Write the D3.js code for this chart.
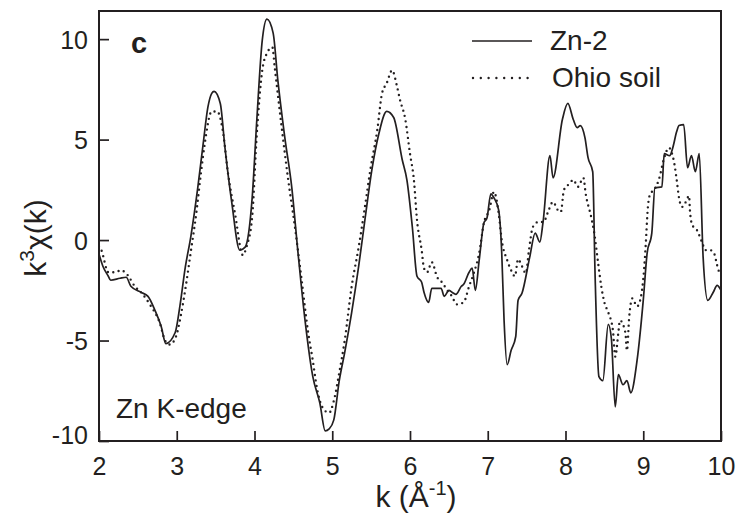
<!DOCTYPE html>
<html><head><meta charset="utf-8">
<script src="https://cdn.jsdelivr.net/npm/d3@7"></script>
<style>
html,body{margin:0;padding:0;background:#fff;}
svg text{font-family:"Liberation Sans",Arial,Helvetica,sans-serif;fill:#231f20;}
</style></head>
<body><svg id="c" width="738" height="528"></svg>
<script>
// Zn-2 (solid) : k values and k^3 chi(k)
const znK = [2.00,2.05,2.12,2.15,2.27,2.35,2.41,2.54,2.63,2.72,2.80,2.86,2.98,3.04,3.11,3.18,3.27,3.34,3.40,3.45,3.48,3.56,3.62,3.71,3.81,3.88,3.97,4.03,4.10,4.16,4.24,4.30,4.39,4.48,4.56,4.65,4.75,4.84,4.91,4.96,5.02,5.09,5.16,5.25,5.34,5.42,5.51,5.60,5.70,5.79,5.90,5.96,6.03,6.09,6.15,6.18,6.24,6.28,6.40,6.44,6.50,6.54,6.59,6.66,6.69,6.76,6.80,6.84,6.89,6.95,6.99,7.04,7.08,7.14,7.18,7.21,7.25,7.30,7.36,7.39,7.44,7.54,7.61,7.67,7.71,7.80,7.84,7.96,8.03,8.10,8.15,8.19,8.25,8.29,8.35,8.38,8.43,8.48,8.55,8.59,8.64,8.68,8.74,8.79,8.84,8.92,9.00,9.05,9.11,9.15,9.24,9.27,9.34,9.38,9.43,9.46,9.52,9.57,9.62,9.67,9.72,9.77,9.83,9.90,9.95,10.00];
const znV = [-0.7,-1.3,-1.8,-2.0,-1.9,-1.85,-2.3,-2.6,-2.8,-3.5,-4.3,-5.15,-4.6,-3.3,-1.35,0.15,2.6,4.8,6.6,7.3,7.4,6.8,4.6,1.8,-0.5,-0.35,2.1,6.0,9.95,11.0,10.3,7.96,5.1,2.6,-0.65,-4.0,-6.8,-8.1,-9.5,-9.4,-8.95,-7.0,-5.6,-3.6,-1.3,1.0,3.5,5.3,6.4,6.1,4.0,3.0,0.65,-1.8,-2.1,-2.6,-3.1,-2.4,-2.4,-2.8,-2.5,-2.6,-2.7,-2.3,-2.2,-1.6,-1.4,-2.5,-1.0,0.85,1.1,2.3,2.1,1.5,-0.65,-4.0,-6.2,-5.5,-4.8,-3.0,-2.65,-0.85,0.35,-0.1,0.85,4.2,3.1,6.0,6.8,6.0,5.6,5.7,5.1,4.1,3.4,-1.65,-6.8,-7.0,-4.2,-4.9,-8.3,-6.7,-7.2,-7.0,-7.6,-6.0,-3.0,-0.65,0.35,2.6,2.65,4.3,4.2,4.6,5.4,5.7,5.75,3.6,4.2,3.4,4.3,-0.85,-3.0,-2.6,-2.25,-2.5];
// Ohio soil (dotted)
const ohK = [2.00,2.03,2.12,2.21,2.28,2.37,2.46,2.54,2.67,2.78,2.85,2.91,2.99,3.05,3.12,3.18,3.25,3.31,3.36,3.45,3.52,3.59,3.66,3.75,3.85,3.90,3.97,4.03,4.10,4.16,4.23,4.26,4.35,4.43,4.52,4.61,4.69,4.75,4.80,4.87,4.96,5.02,5.09,5.16,5.25,5.34,5.42,5.49,5.58,5.64,5.70,5.77,5.83,5.87,5.94,6.00,6.05,6.09,6.15,6.18,6.22,6.28,6.35,6.41,6.48,6.54,6.60,6.69,6.76,6.82,6.89,6.95,7.02,7.08,7.14,7.18,7.25,7.30,7.35,7.39,7.44,7.49,7.53,7.58,7.65,7.72,7.77,7.84,7.90,7.94,7.98,8.05,8.10,8.16,8.23,8.26,8.33,8.37,8.42,8.46,8.50,8.55,8.61,8.64,8.68,8.70,8.77,8.79,8.82,8.86,8.92,8.96,9.01,9.03,9.06,9.09,9.14,9.20,9.27,9.33,9.37,9.40,9.43,9.46,9.50,9.54,9.59,9.60,9.63,9.69,9.76,9.80,9.86,9.91,9.95,9.98];
const ohV = [-0.3,-0.5,-1.6,-1.6,-1.5,-1.75,-2.3,-2.6,-3.3,-4.1,-5.0,-5.2,-4.8,-3.8,-2.2,-0.6,1.3,3.3,4.8,6.4,6.4,5.5,3.3,1.3,-0.75,-0.3,1.15,5.3,8.45,9.3,9.6,8.6,5.6,3.1,0.65,-2.1,-4.6,-6.0,-7.3,-8.3,-8.6,-8.0,-6.6,-5.0,-2.3,-0.35,1.65,3.5,5.5,7.3,7.8,8.45,7.7,7.0,6.0,4.3,3.0,1.0,-0.5,-1.4,-1.6,-1.1,-1.85,-2.1,-2.5,-2.8,-3.2,-3.1,-2.3,-1.65,-0.65,0.85,1.5,2.4,1.35,0.0,-1.0,-1.5,-1.8,-0.95,-1.3,-1.65,-0.5,0.65,0.9,0.9,1.35,1.9,1.5,1.4,2.5,2.8,3.0,2.65,3.1,2.3,1.15,0.35,-1.15,-2.3,-3.1,-3.6,-4.5,-5.8,-4.6,-4.0,-4.6,-5.5,-3.8,-2.9,-3.3,-3.0,-1.5,-0.35,1.65,2.3,2.5,3.0,4.1,4.6,4.3,3.8,3.0,2.1,1.65,1.85,2.2,1.5,0.75,0.5,-0.15,-0.5,-0.5,-0.65,-1.25,-1.65];
const xTicks = [2,3,4,5,6,7,8,9,10];
const yTicks = [-10,-5,0,5,10];
const seriesNames = ["Zn-2","Ohio soil"];

const svg = d3.select("#c");
const L = 99, R = 721, T = 11, B = 441;
const x = d3.scaleLinear().domain([2,10]).range([L,R]);
const y = d3.scaleLinear().domain([-10,11.4]).range([B,T]);
const ink = "#231f20";

const line = d3.line().x(d=>x(d[0])).y(d=>y(d[1])).curve(d3.curveMonotoneX);
const zn = znK.map((k,i)=>[k,znV[i]]);
const oh = ohK.map((k,i)=>[k,ohV[i]]);

svg.append("defs").append("clipPath").attr("id","pc")
  .append("rect").attr("x",L).attr("y",T).attr("width",R-L).attr("height",B-T);
const g = svg.append("g").attr("clip-path","url(#pc)");
g.append("path").attr("d",line(oh)).attr("fill","none").attr("stroke",ink)
  .attr("stroke-width",2.4).attr("stroke-linecap","round").attr("stroke-dasharray","0 5.5");
g.append("path").attr("d",line(zn)).attr("fill","none").attr("stroke",ink)
  .attr("stroke-width",1.7).attr("stroke-linejoin","round");

// axes
const fmt = d => String(d);
const xa = svg.append("g").attr("transform",`translate(0,${B})`)
  .call(d3.axisBottom(x).tickValues(xTicks).tickSize(-10).tickPadding(16).tickFormat(fmt));
const ya = svg.append("g").attr("transform",`translate(${L},0)`)
  .call(d3.axisLeft(y).tickValues(yTicks).tickSize(-10).tickPadding(11).tickFormat(fmt));
[xa,ya].forEach(a=>{
  a.attr("font-size",25).attr("font-family",null);
  a.select(".domain").remove();
  a.selectAll(".tick line").attr("stroke",ink).attr("stroke-width",1.7);
  a.selectAll(".tick text").attr("fill",ink).style("font-size","25px");
});
ya.selectAll(".tick text").attr("dy","0.36em");
ya.selectAll(".tick").filter(d=>d===-10).select("text").attr("y",-7);
svg.append("rect").attr("x",L).attr("y",T).attr("width",R-L).attr("height",B-T)
  .attr("fill","none").attr("stroke",ink).attr("stroke-width",2);

// axis titles
const xt = svg.append("text").attr("x",416).attr("y",507).attr("text-anchor","middle").style("font-size","30px");
xt.append("tspan").text("k (Å");
xt.append("tspan").attr("dy",-12).style("font-size","20px").text("-1");
xt.append("tspan").attr("dy",12).text(")");
const yt = svg.append("text").attr("transform","translate(46,238) rotate(-90)").attr("text-anchor","middle").style("font-size","30px");
yt.append("tspan").text("k");
yt.append("tspan").attr("dy",-12).style("font-size","21px").text("3");
yt.append("tspan").attr("dy",12).text("χ(k)");

// annotations
svg.append("text").attr("x",131).attr("y",53).style("font-size","29px").attr("font-weight","bold").text("c");
svg.append("text").attr("x",116).attr("y",418).style("font-size","28px").text("Zn K-edge");

// legend
const leg = svg.append("g");
leg.append("line").attr("x1",472).attr("x2",532).attr("y1",41).attr("y2",41).attr("stroke",ink).attr("stroke-width",1.7);
leg.append("line").attr("x1",473).attr("x2",528).attr("y1",78).attr("y2",78).attr("stroke",ink)
  .attr("stroke-width",2.4).attr("stroke-linecap","round").attr("stroke-dasharray","0 7.8");
leg.append("text").attr("x",550).attr("y",50).style("font-size","28px").text(seriesNames[0]);
leg.append("text").attr("x",552).attr("y",87).style("font-size","28px").text(seriesNames[1]);
</script></body></html>
